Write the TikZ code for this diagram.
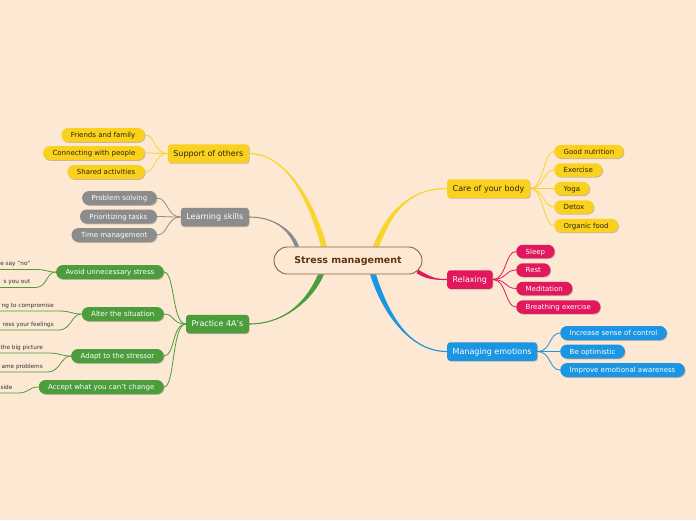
\documentclass[tikz,border=0pt]{standalone}
\usepackage{fontspec}
\setmainfont{DejaVu Sans}
\usetikzlibrary{shadows,calc}
\definecolor{bgc}{RGB}{253,232,211}
\definecolor{yel}{RGB}{249,209,30}
\definecolor{yelline}{RGB}{249,212,45}
\definecolor{gry}{RGB}{140,140,140}
\definecolor{grn}{RGB}{76,158,60}
\definecolor{pnk}{RGB}{226,24,92}
\definecolor{blu}{RGB}{28,150,226}
\definecolor{brn}{RGB}{140,98,60}
\definecolor{brntext}{RGB}{92,54,18}
\definecolor{ytext}{RGB}{45,35,5}
\definecolor{ftext}{RGB}{50,50,50}
\pgfdeclarelayer{bglayer}
\pgfdeclarelayer{connlayer}
\pgfsetlayers{bglayer,connlayer,main}
\newcommand\brconn[6]{%
  \fill[#1] ($#2+#3$) .. controls ($#4+#3$) and #5 .. #6 .. controls #5 and ($#4-#3$) .. ($#2-#3$) -- cycle;
  \draw[#1,line width=1.1pt] #2 .. controls #4 and #5 .. #6;}
\tikzset{
  shad/.style={drop shadow={shadow xshift=0.7pt,shadow yshift=-0.9pt,opacity=0.22,fill=black}},
  topic/.style={shad,rounded corners=3pt,minimum height=18.5pt,inner xsep=5.5pt,inner ysep=0pt,
    text height=5.8pt,text depth=0pt,font=\fontsize{8}{9.6}\selectfont},
  leaf/.style={shad,rounded corners=7pt,minimum height=14pt,inner xsep=9.5pt,inner ysep=0pt,
    text height=5.1pt,text depth=0pt,font=\fontsize{7}{8.4}\selectfont},
  rleaf/.style={leaf,rounded corners=6.75pt,minimum height=13.5pt},
  ybox/.style={fill=yel,text=ytext},
  gybox/.style={fill=gry,text=white},
  gnbox/.style={fill=grn,text=white},
  pkbox/.style={fill=pnk,text=white},
  blbox/.style={fill=blu,text=white},
  frag/.style={anchor=south east,inner xsep=5pt,inner ysep=2pt,text depth=1.6pt,
    font=\fontsize{5.75}{7}\selectfont,text=ftext},
  yl/.style={draw=yelline,line width=0.8pt},
  gyl/.style={draw=gry,line width=0.8pt},
  gnl/.style={draw=grn,line width=0.8pt},
  pkl/.style={draw=pnk,line width=0.8pt},
  bll/.style={draw=blu,line width=0.8pt},
}
\begin{document}
\begin{tikzpicture}[x=1pt,y=-1pt]
\useasboundingbox (0,0) rectangle (696,520);
\begin{pgfonlayer}{bglayer}
\fill[bgc] (0,0) rectangle (696,520);
\end{pgfonlayer}

% central
\node[draw=brn,line width=0.9pt,fill=bgc,rounded corners=13.5pt,minimum width=148pt,minimum height=27pt,
  inner sep=0pt,font=\bfseries\fontsize{9.5}{11}\selectfont,text=brntext] (cm) at (348,260.5) {Stress management};

% main topics
\node[topic,ybox,anchor=east] (sup) at (249,153.5) {Support of others};
\node[topic,gybox,anchor=east] (learn) at (249,217) {Learning skills};
\node[topic,gnbox,anchor=east] (prac) at (249,324) {Practice 4A's};
\node[topic,ybox,anchor=west] (care) at (447,188.5) {Care of your body};
\node[topic,pkbox,anchor=west] (relax) at (447,279.5) {Relaxing};
\node[topic,blbox,anchor=west] (emo) at (447,351.5) {Managing emotions};

% support leaves
\node[leaf,ybox,anchor=east] (s1) at (145,135) {Friends and family};
\node[leaf,ybox,anchor=east] (s2) at (145,153) {Connecting with people};
\node[leaf,ybox,anchor=east] (s3) at (145,172) {Shared activities};
% learning leaves
\node[leaf,gybox,anchor=east] (l1) at (157,198) {Problem solving};
\node[leaf,gybox,anchor=east] (l2) at (157,216.5) {Prioritizing tasks};
\node[leaf,gybox,anchor=east] (l3) at (157,235) {Time management};
% practice subtopics
\node[leaf,gnbox,anchor=east] (a1) at (164,272) {Avoid unnecessary stress};
\node[leaf,gnbox,anchor=east] (a2) at (164,314) {Alter the situation};
\node[leaf,gnbox,anchor=east] (a3) at (164,356) {Adapt to the stressor};
\node[leaf,gnbox,anchor=east] (a4) at (164,387) {Accept what you can't change};
% fragments
\node[frag] (f1) at (35.5,269.5) {e say "no"};
\node[frag] (f2) at (35.5,287.5) {s you out};
\node[frag] (f3) at (59,311) {ng to compromise};
\node[frag] (f4) at (59,330) {ress your feelings};
\node[frag] (f5) at (48,353) {the big picture};
\node[frag] (f6) at (48,372) {ame problems};
\node[frag] (f7) at (17.5,393) {side};
% care leaves
\node[rleaf,ybox,anchor=west] (c1) at (554,151.5) {Good nutrition};
\node[rleaf,ybox,anchor=west] (c2) at (554,170) {Exercise};
\node[rleaf,ybox,anchor=west] (c3) at (554,188.5) {Yoga};
\node[rleaf,ybox,anchor=west] (c4) at (554,207) {Detox};
\node[rleaf,ybox,anchor=west] (c5) at (554,225.5) {Organic food};
% relax leaves
\node[rleaf,pkbox,anchor=west] (r1) at (516,251.5) {Sleep};
\node[rleaf,pkbox,anchor=west] (r2) at (516,270) {Rest};
\node[rleaf,pkbox,anchor=west] (r3) at (516,288.5) {Meditation};
\node[rleaf,pkbox,anchor=west] (r4) at (516,307) {Breathing exercise};
% emotion leaves
\node[leaf,blbox,anchor=west] (e1) at (560,333) {Increase sense of control};
\node[leaf,blbox,anchor=west] (e2) at (560,351.5) {Be optimistic};
\node[leaf,blbox,anchor=west] (e3) at (560,370) {Improve emotional awareness};

\begin{pgfonlayer}{connlayer}
\coordinate (b1) at ([xshift=-24pt]cm.north);
\coordinate (b2) at ([xshift=-51pt]cm.north);
\coordinate (b3) at ([xshift=-27pt]cm.south);
\coordinate (b4) at ([xshift=28pt]cm.north);
\coordinate (b5) at ([xshift=-5pt,yshift=-11pt]cm.east);
\coordinate (b6) at ([xshift=25pt]cm.south);
\brconn{yelline}{(b1)}{(3,0)}{(314,210)}{(290,153.5)}{(sup.east)}
\brconn{gry}{(b2)}{(2.2,0)}{(290,228)}{(272,217)}{(learn.east)}
\brconn{grn}{(b3)}{(3,0)}{(310,300)}{(285,324)}{(prac.east)}
\brconn{yelline}{(b4)}{(3,0)}{(392,205)}{(415,188.5)}{(care.west)}
\brconn{pnk}{(b5)}{(0.8,-1.8)}{(430,279)}{(437,279.5)}{(relax.west)}
\brconn{blu}{(b6)}{(3,0)}{(386,315)}{(410,351.5)}{(emo.west)}

\foreach \n in {s1,s2,s3}
  \draw[yl] (sup.west) .. controls +(-14,0) and +(11,0) .. (\n.east);
\foreach \n in {l1,l2,l3}
  \draw[gyl] (learn.west) .. controls +(-14,0) and +(11,0) .. (\n.east);
\foreach \n in {a1,a2,a3,a4}
  \draw[gnl] (prac.west) .. controls +(-14,0) and +(11,0) .. (\n.east);
\foreach \n in {c1,c2,c3,c4,c5}
  \draw[yl] (care.east) .. controls +(14,0) and +(-11,0) .. (\n.west);
\foreach \n in {r1,r2,r3,r4}
  \draw[pkl] (relax.east) .. controls +(14,0) and +(-11,0) .. (\n.west);
\foreach \n in {e1,e2,e3}
  \draw[bll] (emo.east) .. controls +(14,0) and +(-11,0) .. (\n.west);

\draw[gnl] (f1.south west) -- (f1.south east) .. controls +(12,0) and +(-10,0) .. (a1.west);
\draw[gnl] (f2.south west) -- (f2.south east) .. controls +(12,0) and +(-10,0) .. (a1.west);
\draw[gnl] (f3.south west) -- (f3.south east) .. controls +(12,0) and +(-10,0) .. (a2.west);
\draw[gnl] (f4.south west) -- (f4.south east) .. controls +(12,0) and +(-10,0) .. (a2.west);
\draw[gnl] (f5.south west) -- (f5.south east) .. controls +(12,0) and +(-10,0) .. (a3.west);
\draw[gnl] (f6.south west) -- (f6.south east) .. controls +(12,0) and +(-10,0) .. (a3.west);
\draw[gnl] (f7.south west) -- (f7.south east) .. controls +(12,0) and +(-10,0) .. (a4.west);
\end{pgfonlayer}
\end{tikzpicture}
\end{document}
